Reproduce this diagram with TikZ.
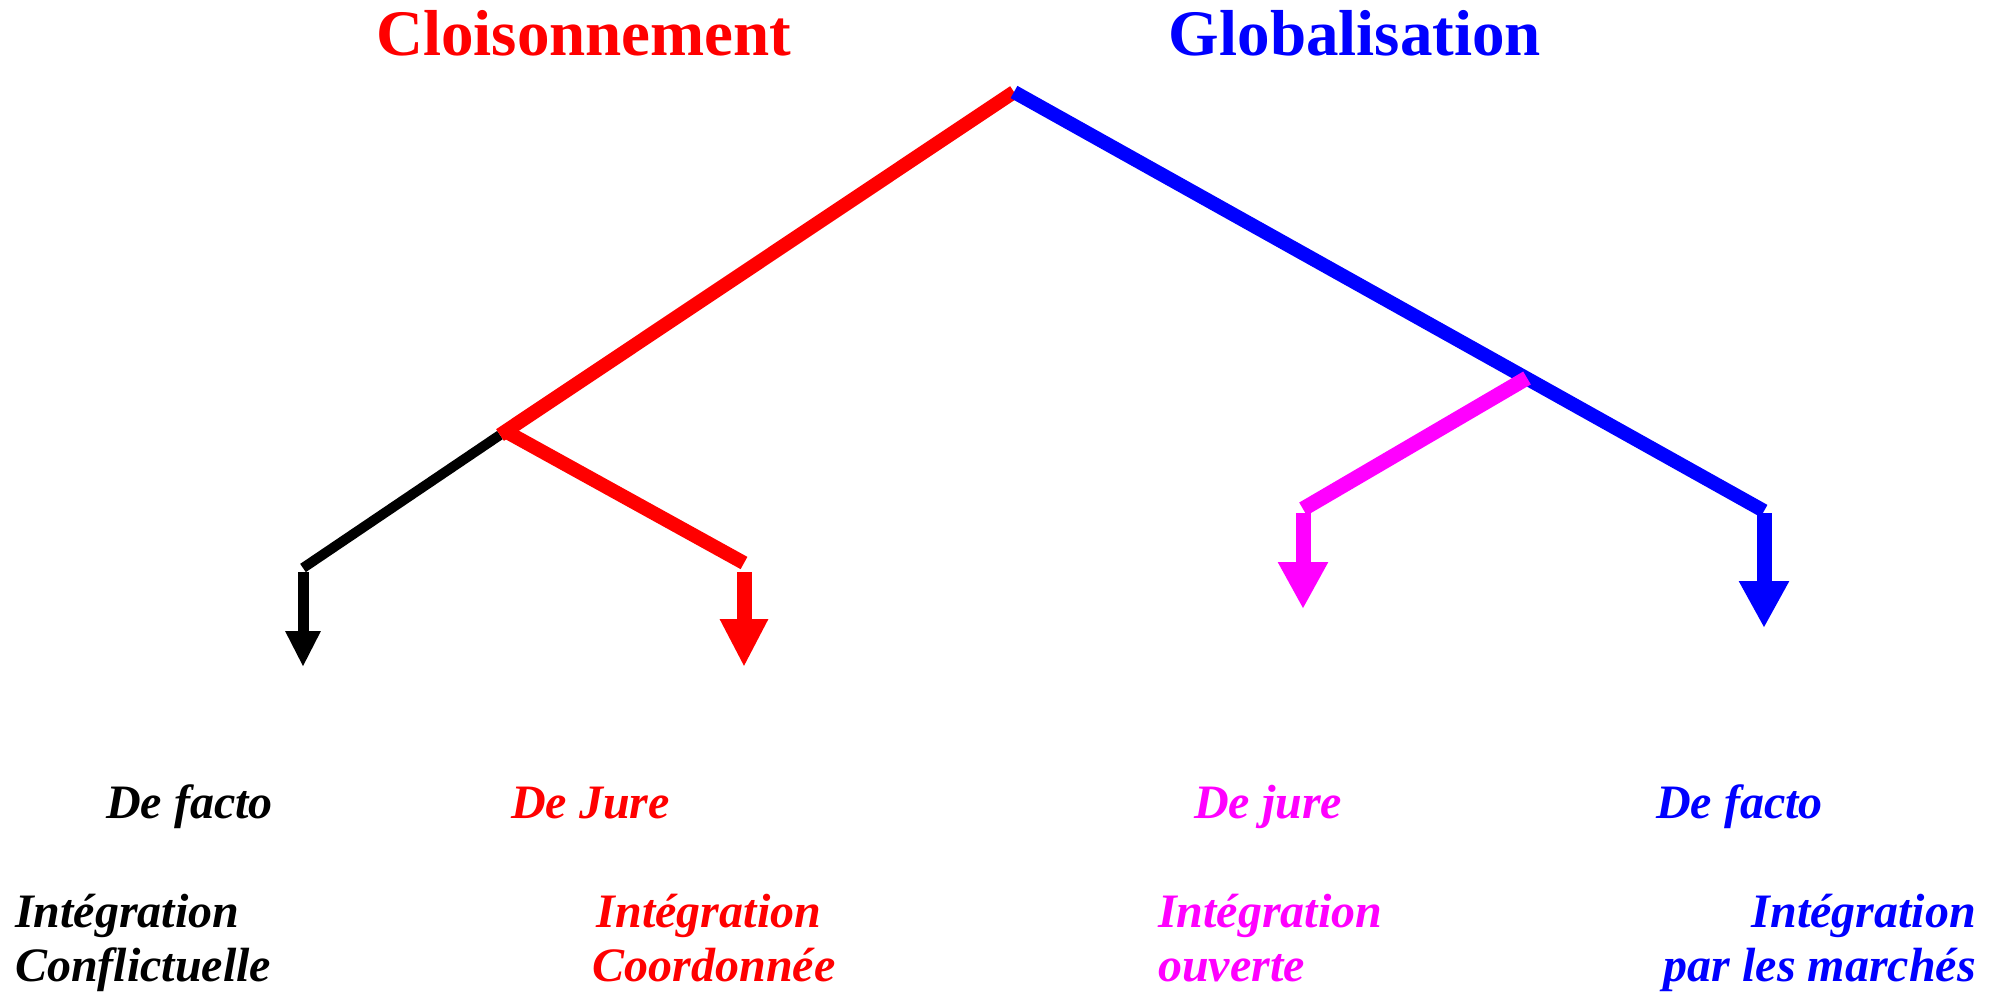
\documentclass[tikz,border=0pt]{standalone}
\usepackage{fontspec}
\setmainfont{Liberation Serif}
\usetikzlibrary{arrows.meta}
\definecolor{pmag}{RGB}{255,0,255}
\definecolor{pred}{RGB}{255,0,0}
\definecolor{pblue}{RGB}{0,0,255}
\tikzset{
  branch/.style={line width=14pt, line cap=butt},
  thinbranch/.style={line width=10pt, line cap=butt},
  titletext/.style={font=\fontsize{65}{72}\selectfont\bfseries, inner sep=0pt, anchor=base},
  lbl/.style={font=\fontsize{48}{54}\selectfont\bfseries\itshape, inner sep=0pt},
  bigarrow/.style={line width=15pt, line cap=butt, -{Triangle[length=47pt,width=47pt]}},
  smallarrow/.style={line width=11pt, line cap=butt, -{Triangle[length=36pt,width=33pt]}},
}
\begin{document}
\begin{tikzpicture}[x=1pt,y=-1pt]
\useasboundingbox[fill=white] (0,0) rectangle (2002,992);

% key points
\coordinate (apex) at (1014,92);
\coordinate (rj) at (500,435);
\coordinate (rjb) at (505,431);
\coordinate (bke) at (303,568);
\coordinate (rde) at (744,563);
\coordinate (bj) at (1527,378);
\coordinate (mge) at (1303,509);
\coordinate (ble) at (1764,511);

% arrow coordinates
\coordinate (bkA) at (303,572);
\coordinate (bkT) at (303,667);
\coordinate (rdA) at (744,572);
\coordinate (rdT) at (744,667);
\coordinate (mgA) at (1303,513);
\coordinate (mgT) at (1303,609);
\coordinate (blA) at (1764,513);
\coordinate (blT) at (1764,628);

% branches
\draw[thinbranch, black] (rj) -- (bke);
\draw[branch, pred] (apex) -- (rj);
\draw[branch, pred] (rjb) -- (rde);
\draw[branch, pblue] (apex) -- (ble);
\draw[branch, pmag, line width=15pt] (bj) -- (mge);

% arrows
\draw[smallarrow, black] (bkA) -- (bkT);
\draw[bigarrow, pred, -{Triangle[length=48pt,width=45pt]}] (rdA) -- (rdT);
\draw[bigarrow, pmag] (mgA) -- (mgT);
\draw[bigarrow, pblue] (blA) -- (blT);

% titles
\node[titletext, text=pred] (tcl) at (584,56) {Cloisonnement};
\node[titletext, text=pblue] (tgl) at (1355,56) {Globalisation};

% labels
\node[lbl, anchor=base west, text=black] (l1) at (106,818) {De facto};
\node[lbl, anchor=base west, text=pred] (l2) at (511,818) {De Jure};
\node[lbl, anchor=base west, text=pmag] (l3) at (1194,818) {De jure};
\node[lbl, anchor=base west, text=pblue] (l4) at (1656,818) {De facto};

\node[lbl, anchor=base west, text=black] (b1a) at (15,927) {Intégration};
\node[lbl, anchor=base west, text=black] (b1b) at (15,981) {Conflictuelle};
\node[lbl, anchor=base, text=pred] (b2a) at (709,927) {Intégration};
\node[lbl, anchor=base, text=pred] (b2b) at (714,981) {Coordonnée};
\node[lbl, anchor=base west, text=pmag] (b3a) at (1158,927) {Intégration};
\node[lbl, anchor=base west, text=pmag] (b3b) at (1158,981) {ouverte};
\node[lbl, anchor=base east, text=pblue] (b4a) at (1976,927) {Intégration};
\node[lbl, anchor=base east, text=pblue] (b4b) at (1976,981) {par les marchés};
\end{tikzpicture}
\end{document}
